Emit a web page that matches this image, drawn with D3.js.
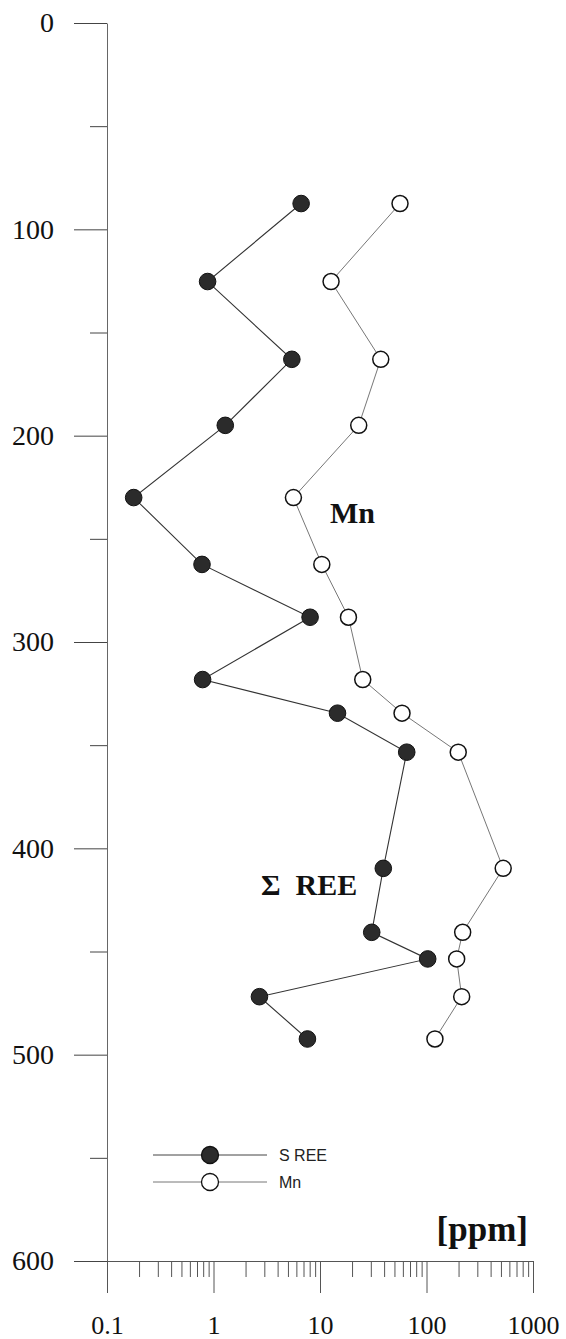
<!DOCTYPE html>
<html lang="en">
<head>
    <meta charset="UTF-8">
    <title>REE and Mn depth profile</title>
    <script src="https://d3js.org/d3.v7.min.js"></script>
    <style>
        body {
            margin: 0;
            background: #fff;
        }
        svg {
            display: block;
        }
        .tick text {
            font-family: "Liberation Serif", "Times New Roman", serif;
            fill: #111;
        }
        .label {
            font-family: "Liberation Serif", "Times New Roman", serif;
            font-weight: bold;
            fill: #111;
        }
        .legend-text {
            font-family: "Liberation Sans", Arial, sans-serif;
            font-size: 16px;
            fill: #222;
        }
    </style>
</head>
<body>
    <svg width="566" height="1339"></svg>

    <script>
        // depth of each sample (y axis, 0 at top)
        const depth = [87.5, 125.3, 163, 195, 230, 262.4, 288, 318.2, 334.5, 353.4, 409.7, 440.7, 453.6, 471.9, 492.4];
        // sum of REE, ppm
        const reeValues = [6.65, 0.88, 5.44, 1.29, 0.178, 0.78, 8.07, 0.79, 14.6, 65.2, 39.3, 30.6, 102.6, 2.70, 7.62];
        // Mn, ppm
        const mnValues = [56.4, 12.7, 37.2, 23.1, 5.63, 10.4, 18.5, 25.2, 58.9, 198.6, 525, 218.6, 192, 214, 120];

        const depthTicks = [0, 100, 200, 300, 400, 500, 600];
        const depthMinorTicks = [50, 150, 250, 350, 450, 550];
        const ppmTicks = [0.1, 1, 10, 100, 1000];
        const ppmTickLabels = ["0.1", "1", "10", "100", "1000"];

        const svg = d3.select("svg");

        const x = d3.scaleLog()
            .domain([0.1, 1000])
            .range([107, 533]);

        const y = d3.scaleLinear()
            .domain([0, 600])
            .range([23, 1261]);

        // minor x ticks 2..9 in each decade
        const ppmMinor = [];
        ppmTicks.slice(0, -1).forEach(d => {
            for (let k = 2; k <= 9; k++) ppmMinor.push(d * k);
        });

        // Y axis (minor first so the major ticks sit on top)
        svg.append("g")
            .attr("transform", `translate(${x(0.1)},0)`)
            .call(d3.axisLeft(y).tickValues(depthMinorTicks).tickSize(17).tickFormat(""))
            .call(g => g.select(".domain").remove())
            .selectAll("line").attr("stroke", "#444");

        svg.append("g")
            .attr("transform", `translate(${x(0.1)},0)`)
            .call(d3.axisLeft(y).tickValues(depthTicks).tickSize(33).tickSizeOuter(0).tickPadding(20))
            .call(g => g.select(".domain").attr("stroke", "#666"))
            .call(g => g.selectAll("line").attr("stroke", "#444"))
            .selectAll("text")
            .style("font-size", "28px");

        // X axis
        svg.append("g")
            .attr("transform", `translate(0,${y(600)})`)
            .call(d3.axisBottom(x).tickValues(ppmMinor).tickSize(16).tickFormat(""))
            .call(g => g.select(".domain").remove())
            .selectAll("line").attr("stroke", "#555");

        svg.append("g")
            .attr("transform", `translate(0,${y(600)})`)
            .call(d3.axisBottom(x).tickValues(ppmTicks).tickSize(32).tickSizeOuter(0).tickPadding(23)
                .tickFormat((d, i) => ppmTickLabels[i]))
            .call(g => g.select(".domain").attr("stroke", "#555"))
            .call(g => g.selectAll("line").attr("stroke", "#555"))
            .selectAll("text")
            .style("font-size", "26px");

        const reeData = depth.map((d, i) => ({ depth: d, value: reeValues[i] }));
        const mnData = depth.map((d, i) => ({ depth: d, value: mnValues[i] }));

        const line = d3.line()
            .x(d => x(d.value))
            .y(d => y(d.depth));

        // Mn series
        svg.append("path")
            .datum(mnData)
            .attr("fill", "none")
            .attr("stroke", "#777")
            .attr("stroke-width", 1)
            .attr("d", line);

        svg.selectAll(".mn")
            .data(mnData)
            .join("circle")
            .attr("class", "mn")
            .attr("cx", d => x(d.value))
            .attr("cy", d => y(d.depth))
            .attr("r", 8)
            .attr("fill", "#fff")
            .attr("stroke", "#111")
            .attr("stroke-width", 1.5);

        // REE series
        svg.append("path")
            .datum(reeData)
            .attr("fill", "none")
            .attr("stroke", "#333")
            .attr("stroke-width", 1.1)
            .attr("d", line);

        svg.selectAll(".ree")
            .data(reeData)
            .join("circle")
            .attr("class", "ree")
            .attr("cx", d => x(d.value))
            .attr("cy", d => y(d.depth))
            .attr("r", 8.3)
            .attr("fill", "#2b2b2b")
            .attr("stroke", "#111")
            .attr("stroke-width", 1);

        // labels inside the plot
        svg.append("text")
            .attr("class", "label")
            .attr("x", 330)
            .attr("y", 523)
            .style("font-size", "30px")
            .text("Mn");

        svg.append("text")
            .attr("class", "label")
            .attr("x", 261)
            .attr("y", 895)
            .style("font-size", "30px")
            .style("white-space", "pre")
            .text("Σ  REE");

        svg.append("text")
            .attr("class", "label")
            .attr("x", 528)
            .attr("y", 1241)
            .attr("text-anchor", "end")
            .style("font-size", "35px")
            .text("[ppm]");

        // legend
        const legend = [
            { name: "S REE", y: 1155, fill: "#2b2b2b", line: "#444" },
            { name: "Mn", y: 1182, fill: "#fff", line: "#777" }
        ];

        const lg = svg.append("g");
        lg.selectAll("line")
            .data(legend)
            .join("line")
            .attr("x1", 153)
            .attr("x2", 267)
            .attr("y1", d => d.y)
            .attr("y2", d => d.y)
            .attr("stroke", d => d.line)
            .attr("stroke-width", 1);

        lg.selectAll("circle")
            .data(legend)
            .join("circle")
            .attr("cx", 210)
            .attr("cy", d => d.y)
            .attr("r", 8.5)
            .attr("fill", d => d.fill)
            .attr("stroke", "#111")
            .attr("stroke-width", 1.3);

        lg.selectAll("text")
            .data(legend)
            .join("text")
            .attr("class", "legend-text")
            .attr("x", 279)
            .attr("y", d => d.y)
            .attr("dy", "0.35em")
            .text(d => d.name);
    </script>
</body>
</html>
